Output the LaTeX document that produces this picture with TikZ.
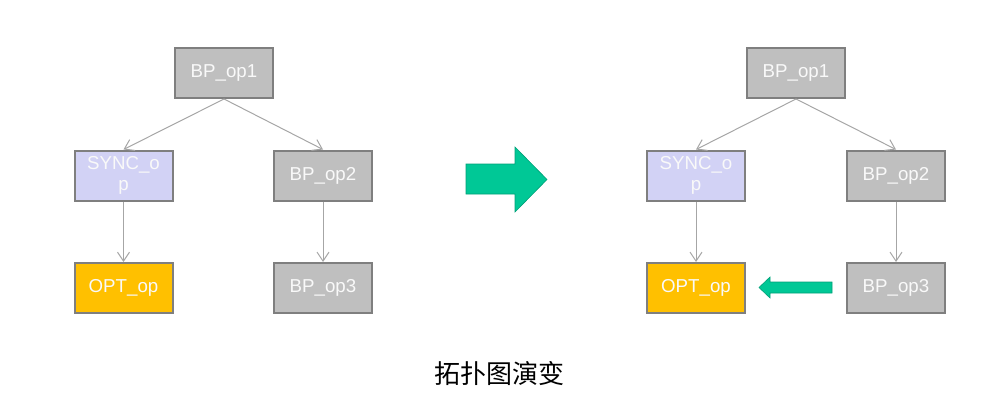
\documentclass[tikz,border=0pt]{standalone}
\usepackage{fontspec}
\setmainfont{Liberation Sans}
\newfontfamily\cjk{Noto Sans CJK SC}
\usetikzlibrary{arrows.meta}
\definecolor{opgray}{HTML}{BFBFBF}
\definecolor{synclav}{HTML}{D2D2F5}
\definecolor{optorange}{HTML}{FFC000}
\definecolor{edgegray}{HTML}{7F7F7F}
\definecolor{linkgray}{HTML}{A6A6A6}
\definecolor{bigteal}{HTML}{00C896}
\begin{document}
\begin{tikzpicture}[x=1pt,y=-1pt,
    opbox/.style={draw=edgegray, line width=2pt, minimum width=98pt, minimum height=50pt,
        inner sep=2pt, text=white!95!gray, font=\fontsize{18.7}{21}\selectfont, align=center},
    bpop/.style={opbox, fill=opgray},
    syncop/.style={opbox, fill=synclav},
    optop/.style={opbox, fill=optorange},
    link/.style={draw=linkgray, line width=1pt, -{Straight Barb[length=9pt,width=12pt]}},
    fat/.style={fill=bigteal, draw=bigteal!80!black, line width=0.6pt}]
            \useasboundingbox (0,0) rectangle (998,420);
            % avant
            \node[bpop] (op1L) at (224,73) {BP\_op1};
            \node[syncop] (syncL) at (123.5,175.5) {SYNC\_o\\p};
            \node[bpop] (op2L) at (323,175.5) {BP\_op2};
            \node[optop] (optL) at (123.5,288) {OPT\_op};
            \node[bpop] (op3L) at (323,288) {BP\_op3};
            \draw[link] (op1L.south) -- (syncL.north);
            \draw[link] (op1L.south) -- (op2L.north);
            \draw[link] (syncL) -- (optL);
            \draw[link] (op2L) -- (op3L);

            % apres
            \node[bpop] (op1R) at (796,73) {BP\_op1};
            \node[syncop] (syncR) at (696,175.5) {SYNC\_o\\p};
            \node[bpop] (op2R) at (896,175.5) {BP\_op2};
            \node[optop] (optR) at (696,288) {OPT\_op};
            \node[bpop] (op3R) at (896,288) {BP\_op3};
            \draw[link] (op1R.south) -- (syncR.north);
            \draw[link] (op1R.south) -- (op2R.north);
            \draw[link] (syncR) -- (optR);
            \draw[link] (op2R) -- (op3R);

            % grosses fleches
            \draw[fat] (466,164) -- (515,164) -- (515,147) -- (547,179.5) -- (515,212) -- (515,194) -- (466,194) -- cycle;
            \draw[fat] (832,282) -- (770,282) -- (770,277) -- (759,287.5) -- (770,298) -- (770,293) -- (832,293) -- cycle;

            \node (caption) at (499,374) {\cjk\fontsize{26}{30}\selectfont 拓扑图演变};
\end{tikzpicture}
\end{document}
